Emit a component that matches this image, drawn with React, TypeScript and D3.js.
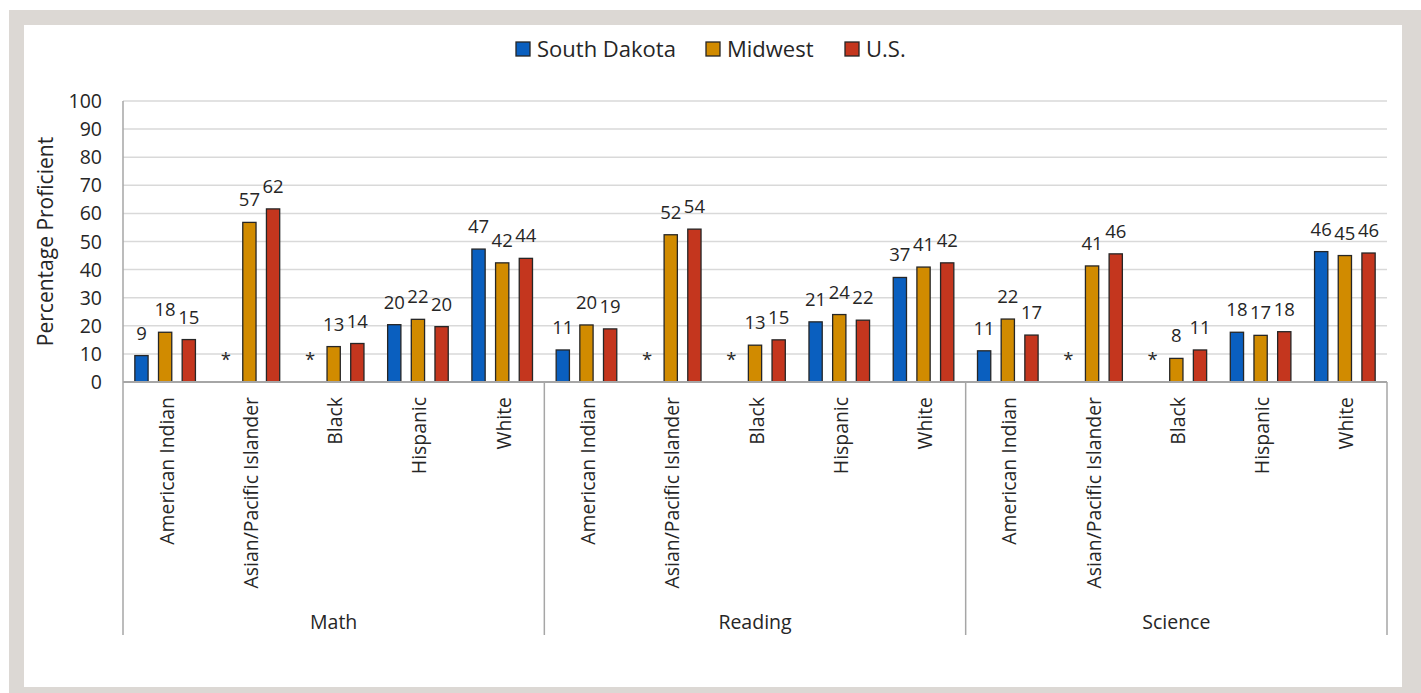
import React from "react";
import * as d3 from "d3";

const subjects = ["Math", "Reading", "Science"];
const groups = ["American Indian", "Asian/Pacific Islander", "Black", "Hispanic", "White"];
const seriesNames = ["South Dakota", "Midwest", "U.S."];
const seriesColors = ["#0a5fbf", "#d18b00", "#c4361e"];

// 15 values each: Math (5 groups), Reading (5), Science (5); null = not reported (*)
const southDakota = [9.4, null, null, 20.4, 47.3, 11.4, null, null, 21.4, 37.2, 11.1, null, null, 17.7, 46.4];
const midwest = [17.7, 56.8, 12.6, 22.3, 42.4, 20.3, 52.4, 13.1, 24.0, 40.9, 22.4, 41.3, 8.4, 16.6, 45.0];
const us = [15.1, 61.6, 13.7, 19.7, 44.0, 18.9, 54.4, 15.0, 22.0, 42.4, 16.7, 45.6, 11.4, 17.9, 45.9];
const yTicks = [0, 10, 20, 30, 40, 50, 60, 70, 80, 90, 100];

const FONT = "'Open Sans', 'Noto Sans', sans-serif";

export default function App() {
  const W = 1421, H = 693;
  const left = 123, right = 1387, top = 101, bottom = 382;
  const seriesData = [southDakota, midwest, us];
  const cats = subjects.flatMap((s) => groups.map((g) => `${s}|${g}`));

  const x0 = d3.scaleBand<string>().domain(cats).range([left, right]);
  const x1 = d3
    .scaleBand<string>()
    .domain(seriesNames)
    .range([0, x0.bandwidth()])
    .paddingInner(0.44)
    .paddingOuter(0.5);
  const y = d3.scaleLinear().domain([0, 100]).range([bottom, top]);
  const fmt = d3.format(".0f");

  const groupW = (right - left) / subjects.length;
  const legendX = [516, 706, 845];

  return (
    <svg
      width={W}
      height={H}
      style={{ position: "absolute", left: 0, top: 0, display: "block" }}
      fontFamily={FONT}
    >
      <rect x={0} y={0} width={W} height={H} fill="#ffffff" />
      <rect x={9} y={10} width={W - 9} height={H - 10} fill="#dcd8d4" />
      <rect x={24} y={25} width={1402 - 24} height={687 - 25} fill="#ffffff" />

      {/* legend */}
      {seriesNames.map((s, i) => (
        <g key={s}>
          <rect x={legendX[i]} y={42} width={14} height={14} fill={seriesColors[i]} stroke="#262626" strokeWidth={1.3} />
          <text x={legendX[i] + 21} y={56.5} fontSize={22} fill="#262626">
            {s}
          </text>
        </g>
      ))}

      {/* gridlines */}
      {yTicks.map((t) =>
        t === 0 ? null : (
          <line key={t} x1={left} x2={right} y1={y(t)} y2={y(t)} stroke="#d9d9d9" strokeWidth={1.5} />
        )
      )}
      {/* y ticks */}
      {yTicks.map((t) => (
        <text key={t} x={102} y={y(t)} dy="0.36em" textAnchor="end" fontSize={19.5} fill="#262626">
          {t}
        </text>
      ))}
      <text
        transform={`translate(53,${(top + bottom) / 2}) rotate(-90)`}
        textAnchor="middle"
        fontSize={21}
        fill="#262626"
      >
        Percentage Proficient
      </text>

      {/* bars */}
      {cats.map((c, ci) =>
        seriesNames.map((s, si) => {
          const v = seriesData[si][ci];
          const bx = (x0(c) as number) + (x1(s) as number);
          const bw = x1.bandwidth();
          const cx = bx + bw / 2;
          if (v === null) {
            return (
              <text key={c + s} x={cx} y={y(0) - 16} textAnchor="middle" fontSize={18.5} fill="#262626">
                *
              </text>
            );
          }
          return (
            <g key={c + s}>
              <rect
                x={bx}
                y={y(v)}
                width={bw}
                height={y(0) - y(v)}
                fill={seriesColors[si]}
                stroke="#262626"
                strokeWidth={1.3}
              />
              <text x={cx} y={y(v) - 16} textAnchor="middle" fontSize={18.5} fill="#262626">
                {fmt(v)}
              </text>
            </g>
          );
        })
      )}

      {/* axes */}
      <line x1={left} x2={left} y1={top} y2={bottom} stroke="#a6a6a6" strokeWidth={1.5} />
      <line x1={left} x2={right} y1={bottom} y2={bottom} stroke="#a6a6a6" strokeWidth={2} />
      {d3.range(subjects.length + 1).map((i) => (
        <line
          key={i}
          x1={left + i * groupW}
          x2={left + i * groupW}
          y1={bottom}
          y2={635}
          stroke="#a6a6a6"
          strokeWidth={1.5}
        />
      ))}

      {/* category labels */}
      {cats.map((c) => {
        const cx = (x0(c) as number) + x0.bandwidth() / 2;
        return (
          <text
            key={c}
            transform={`translate(${cx + 8.5},397) rotate(-90)`}
            textAnchor="end"
            fontSize={19.4}
            fill="#262626"
          >
            {c.split("|")[1]}
          </text>
        );
      })}
      {subjects.map((s, i) => (
        <text key={s} x={left + (i + 0.5) * groupW} y={628.5} textAnchor="middle" fontSize={19.5} fill="#262626">
          {s}
        </text>
      ))}
    </svg>
  );
}
